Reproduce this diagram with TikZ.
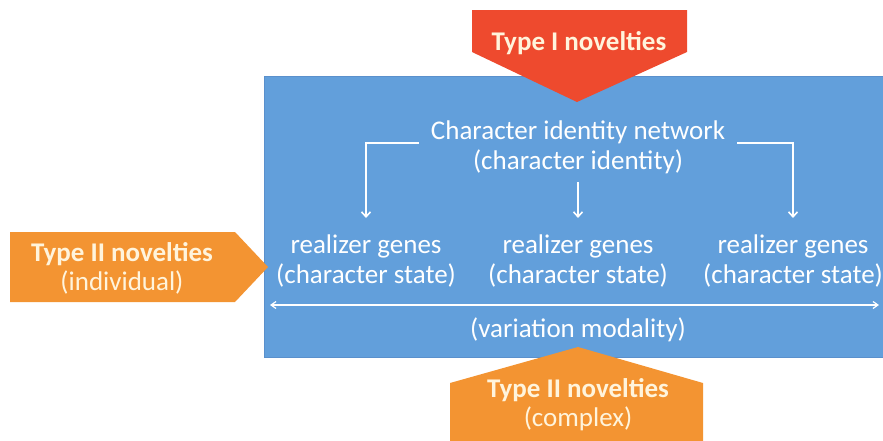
\documentclass[tikz,border=0pt]{standalone}
\usepackage{fontspec}
\setmainfont{Carlito}
\usetikzlibrary{arrows.meta}
\definecolor{boxblue}{HTML}{629FDB}
\definecolor{boxedge}{HTML}{5A90CC}
\definecolor{typered}{HTML}{EE4A2E}
\definecolor{typeorange}{HTML}{F39432}
\definecolor{txtcream}{HTML}{FFF4DC}
\begin{document}
\begin{tikzpicture}[x=1pt,y=-1pt,
  bluetext/.style={text=white,font=\fontsize{27}{30}\selectfont,align=center,inner sep=0pt},
  labeltext/.style={text=txtcream,font=\fontsize{27}{29}\selectfont,align=center,inner sep=0pt},
  wline/.style={draw=white,line width=1.6pt},
  warrow/.style={wline,-{Straight Barb[length=5pt,width=9pt]}}
]
\useasboundingbox (0,0) rectangle (883,440);
% main blue box
\fill[boxblue,draw=boxedge,line width=0.8pt] (264,76) rectangle (890,357);
% Type I (red, pointing down)
\fill[typered] (472,10) -- (687,10) -- (687,52) -- (577,102) -- (472,52) -- cycle;
\node[labeltext,font=\bfseries\fontsize{27}{29}\selectfont] (t1) at (579,43) {Type I novelties};
% Type II individual (left, pointing right)
\fill[typeorange] (10,232) -- (235,232) -- (268,267) -- (235,302) -- (10,302) -- cycle;
\node[labeltext] (t2a) at (122,268) {\textbf{Type II novelties}\\(individual)};
% Type II complex (bottom, pointing up)
\fill[typeorange] (450,383) -- (578,347) -- (703,383) -- (703,445) -- (450,445) -- cycle;
\node[labeltext] (t2b) at (578,405) {\textbf{Type II novelties}\\(complex)};
% texts in blue box
\node[bluetext] (cin) at (578,147) {Character identity network\\(character identity)};
\node[bluetext] (rg1) at (366,261) {realizer genes\\(character state)};
\node[bluetext] (rg2) at (578,261) {realizer genes\\(character state)};
\node[bluetext] (rg3) at (793,261) {realizer genes\\(character state)};
\node[bluetext] (vm) at (578,330) {(variation modality)};
% connectors
\coordinate (l0) at (419,143);
\coordinate (r0) at (737,143);
\coordinate (m0) at (578,182);
\coordinate (tipy) at (0,218);
\draw[warrow] (l0) -| (rg1.north |- tipy);
\draw[warrow] (m0) -- (rg2.north |- tipy);
\draw[warrow] (r0) -| (rg3.north |- tipy);
\coordinate (va) at (270,305);
\coordinate (vb) at (879,305);
\draw[wline,line width=1.2pt,{Straight Barb[length=5pt,width=7pt]}-{Straight Barb[length=5pt,width=7pt]}] (va) -- (vb);
\end{tikzpicture}
\end{document}
